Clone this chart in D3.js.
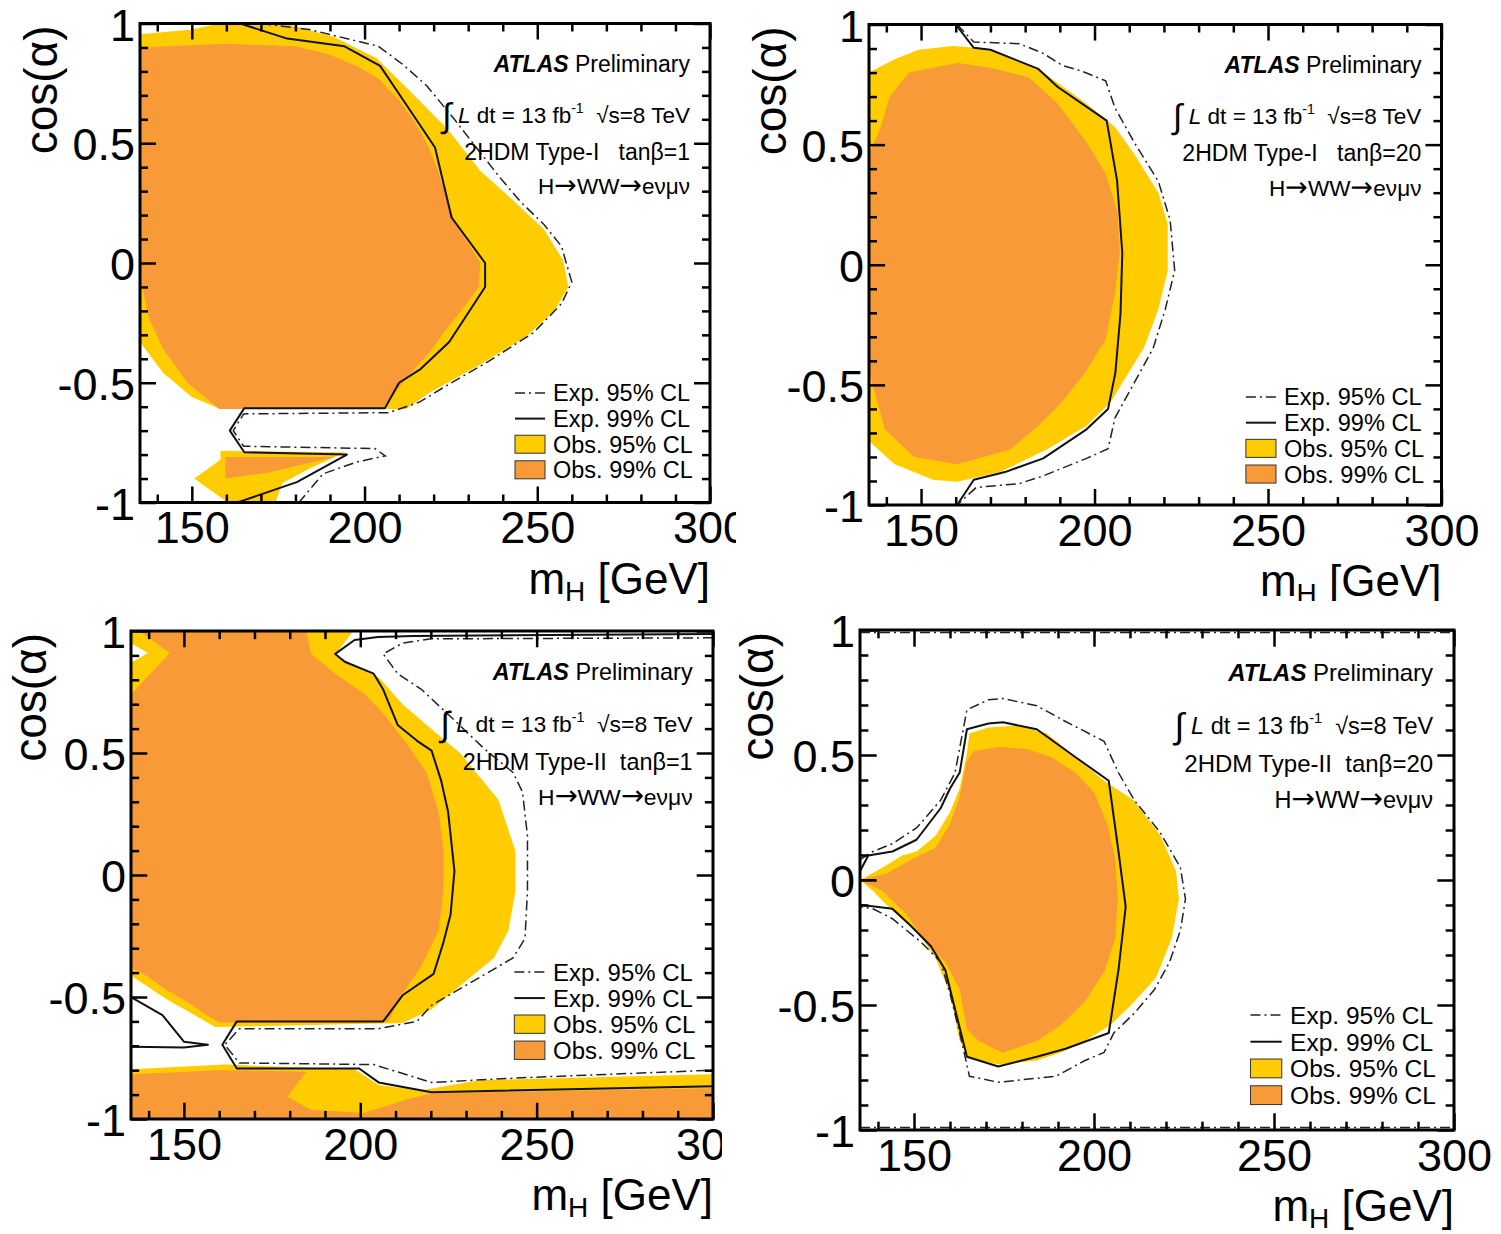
<!DOCTYPE html>
<html>
<head>
<meta charset="utf-8">
<script src="https://cdn.jsdelivr.net/npm/d3@7"></script>
<style>
  html, body { margin: 0; padding: 0; background: #fff; }
  svg { display: block; }
  text { font-family: "Liberation Sans", Arial, Helvetica, sans-serif; white-space: pre; }
</style>
</head>
<body>
<svg id="chart" width="1501" height="1234"></svg>
<script>
// ---------- axis ticks and labels ----------
const massDomain = [135, 300];
const cosDomain = [-1, 1];
const massTicks = [150, 200, 250, 300];
const massTickLabels = ["150", "200", "250", "300"];
const massMinorTicks = [140, 160, 170, 180, 190, 210, 220, 230, 240, 260, 270, 280, 290];
const cosTicks = [-1, -0.5, 0, 0.5, 1];
const cosTickLabels = ["-1", "-0.5", "0", "0.5", "1"];
const cosMinorTicks = [-0.9, -0.8, -0.7, -0.6, -0.4, -0.3, -0.2, -0.1, 0.1, 0.2, 0.3, 0.4, 0.6, 0.7, 0.8, 0.9];
const legendLabels = ["Exp. 95% CL", "Exp. 99% CL", "Obs. 95% CL", "Obs. 99% CL"];
const modelLabels = ["2HDM Type-I   tanβ=1", "2HDM Type-I   tanβ=20", "2HDM Type-II  tanβ=1", "2HDM Type-II  tanβ=20"];

// ---------- contours, points are [m_H (GeV), cos(alpha)] ----------
// Type-I, tan(beta)=1
const typeI_tb1_obs95 = [
  [[135,0.955],[150,0.975],[158,1.0],[177,1.0],[191,0.945],[203.5,0.855],[213,0.72],[224,0.56],[233.5,0.385],[243.5,0.255],[252,0.14],[257.5,0.01],[259,-0.10],[254.9,-0.2],[246.6,-0.31],[232.8,-0.43],[219,-0.54],[212,-0.61],[158.3,-0.61],[150,-0.56],[141.8,-0.46],[135,-0.33]],
  [[158.3,-0.784],[194.2,-0.79],[183.1,-0.865],[176.2,-0.92],[174.2,-1.0],[160.4,-1.0],[150.7,-0.90],[155.6,-0.85],[158.3,-0.82]]
];
const typeI_tb1_obs99 = [
  [[135,0.90],[160,0.915],[180,0.905],[190,0.87],[198,0.82],[204,0.77],[210,0.68],[214,0.60],[218,0.50],[221,0.40],[223.5,0.28],[226.5,0.16],[231,0.06],[233.5,0.0],[233,-0.10],[229,-0.18],[224,-0.27],[219,-0.37],[214,-0.45],[210,-0.52],[207,-0.58],[205.5,-0.61],[158,-0.61],[148.7,-0.50],[141.8,-0.36],[137.6,-0.23],[135.6,-0.10],[135,-0.08]],
  [[159.7,-0.81],[191.4,-0.81],[172.1,-0.875],[159.7,-0.90]]
];
const typeI_tb1_exp95 = [
  [[170,1.0],[184,0.975],[204,0.905],[211,0.83],[218,0.74],[226,0.60],[233,0.47],[239,0.36],[245.2,0.255],[252,0.16],[257,0.07],[260,-0.08],[257,-0.17],[249,-0.29],[236,-0.41],[224,-0.51],[216,-0.58],[207,-0.625],[165,-0.63],[162,-0.70],[165,-0.765],[203,-0.775],[206,-0.805],[198,-0.83],[188,-0.88],[181,-1.0]]
];
const typeI_tb1_exp99 = [
  [[164,1.0],[177.6,0.937],[194.2,0.905],[204.5,0.823],[212.1,0.661],[220.4,0.482],[225.2,0.19],[234.9,0.0],[234.9,-0.10],[224.5,-0.33],[216.2,-0.443],[210,-0.50],[205.9,-0.606],[165.2,-0.606],[161,-0.70],[165.2,-0.79],[194.9,-0.80],[180.4,-0.915],[165.2,-0.99],[163,-1.0]]
];

// Type-I, tan(beta)=20
const typeI_tb20_obs95 = [
  [[135,0.80],[142.4,0.855],[149.3,0.895],[159,0.911],[165.9,0.903],[172.8,0.879],[183.8,0.815],[197.7,0.67],[205.9,0.573],[211.5,0.46],[218.4,0.30],[221.1,0.17],[221.1,-0.024],[218.4,-0.185],[214.2,-0.347],[208.7,-0.476],[204.6,-0.573],[197.7,-0.67],[186.6,-0.766],[172.8,-0.863],[160.4,-0.903],[153.5,-0.895],[142.4,-0.83],[135,-0.734]]
];
const typeI_tb20_obs99 = [
  [[135,0.46],[138.3,0.57],[141,0.70],[146.5,0.80],[160.4,0.84],[170,0.82],[181,0.78],[189.4,0.67],[197.7,0.51],[203.2,0.38],[206.6,0.22],[207.3,0.056],[205.9,-0.12],[203.2,-0.31],[197.7,-0.44],[190.7,-0.57],[183.8,-0.67],[175.6,-0.77],[160.4,-0.83],[148,-0.80],[139.6,-0.685],[136.2,-0.51],[135,-0.43]]
];
const typeI_tb20_exp95 = [
  [[160.4,1.0],[165.2,0.927],[178.3,0.92],[185.2,0.88],[190.7,0.83],[196.3,0.806],[203.2,0.766],[205.9,0.653],[211.5,0.508],[218.4,0.347],[221.8,0.185],[223.1,-0.024],[220.4,-0.185],[216.9,-0.347],[211.5,-0.49],[205.9,-0.637],[203.9,-0.766],[197.7,-0.806],[185.2,-0.879],[178.3,-0.911],[165.9,-0.927],[160.4,-1.0]]
];
const typeI_tb20_exp99 = [
  [[160,1.0],[165.2,0.903],[170,0.895],[183.8,0.815],[189.4,0.74],[203.5,0.6],[206.5,0.35],[208,0.05],[207.5,-0.2],[206,-0.45],[203.9,-0.6],[197.7,-0.685],[185.2,-0.806],[174.2,-0.863],[165.2,-0.895],[160.4,-1.0]]
];

// Type-II, tan(beta)=1
const typeII_tb1_obs95 = [
  [[135,1.0],[198,1.0],[193,0.905],[198,0.86],[205.2,0.81],[212,0.70],[220,0.60],[228.3,0.50],[239.2,0.307],[244,0.097],[244,-0.065],[242,-0.227],[237.9,-0.34],[229.7,-0.437],[220.2,-0.55],[212,-0.607],[158.9,-0.623],[152,-0.566],[145.2,-0.51],[138.4,-0.445],[135,-0.413],[135,0.87],[139.8,0.91],[135,0.95]],
  [[135,-0.796],[161.6,-0.777],[198.4,-0.796],[205.2,-0.861],[217.4,-0.882],[233.8,-0.841],[300,-0.817],[300,-1],[135,-1]]
];
const typeII_tb1_obs99 = [
  [[137.5,1.0],[184.7,1.0],[186.1,0.906],[192.9,0.825],[201.1,0.744],[206.5,0.663],[213.4,0.534],[218.8,0.42],[222.2,0.26],[223.6,0.097],[223.6,-0.065],[222.2,-0.227],[217.4,-0.372],[212,-0.485],[207.9,-0.6],[160,-0.605],[157,-0.58],[152,-0.53],[145,-0.47],[139,-0.41],[135,-0.38],[135,0.74],[146,0.91]],
  [[135,-0.817],[160.2,-0.80],[184.7,-0.806],[179.3,-0.909],[186.1,-0.963],[201.1,-0.974],[214.7,-0.914],[220.2,-0.895],[300,-0.874],[300,-1],[135,-1]]
];
const typeII_tb1_exp95 = [
  [[300,0.972],[220,0.968],[212,0.95],[206.5,0.906],[210.6,0.825],[217.4,0.76],[227,0.63],[235.1,0.518],[243.3,0.42],[246,0.34],[247.4,0.16],[247.4,-0.065],[246.7,-0.26],[243.3,-0.34],[233.8,-0.42],[220.2,-0.534],[216.1,-0.6],[205.2,-0.63],[165.7,-0.63],[161.6,-0.696],[165.7,-0.77],[203.8,-0.777],[220.2,-0.85],[247.4,-0.83],[300,-0.80]]
];
const typeII_tb1_exp99 = [
  [[300,0.988],[215,0.98],[205,0.975],[198.4,0.963],[192.9,0.906],[195.6,0.874],[203.8,0.825],[206.5,0.76],[210.6,0.615],[216.1,0.55],[220.2,0.51],[222.9,0.388],[224.9,0.259],[226.7,0.016],[225.6,-0.162],[223.6,-0.275],[220.8,-0.405],[212,-0.493],[206.5,-0.6],[165,-0.6],[160.9,-0.696],[165,-0.793],[199.7,-0.793],[205.2,-0.85],[220.2,-0.89],[300,-0.866]],
  [[135,-0.50],[143.9,-0.574],[150,-0.683],[156.8,-0.696],[150,-0.707],[135,-0.704]]
];

// Type-II, tan(beta)=20
const typeII_tb20_obs95 = [
  [[135,0.0],[141.3,0.05],[146.7,0.098],[150.7,0.114],[156,0.177],[160,0.271],[162.7,0.366],[164.7,0.508],[165.4,0.587],[170.7,0.61],[178.7,0.618],[186.8,0.587],[194.8,0.492],[202.8,0.397],[211,0.319],[218.5,0.177],[222.8,0.035],[223.6,-0.076],[221.6,-0.233],[217.2,-0.391],[210.2,-0.502],[204.6,-0.58],[197.5,-0.644],[190.8,-0.69],[184.1,-0.722],[173.4,-0.738],[165.4,-0.714],[162.7,-0.644],[160,-0.454],[156,-0.312],[150.7,-0.202],[144,-0.123],[138.6,-0.044]]
];
const typeII_tb20_obs99 = [
  [[135,0.0],[142.6,0.027],[149.3,0.082],[156,0.129],[160,0.224],[162.7,0.334],[164.7,0.476],[166.7,0.516],[173.4,0.532],[181.4,0.524],[188.1,0.492],[194.8,0.429],[200.1,0.35],[203.7,0.224],[205.9,0.082],[206.6,-0.076],[205.9,-0.233],[203.1,-0.36],[197.5,-0.486],[190.8,-0.58],[184.1,-0.644],[174.7,-0.691],[168,-0.644],[164.7,-0.596],[162.7,-0.438],[158.7,-0.328],[153.3,-0.249],[148,-0.139],[141.3,-0.044]]
];
const typeII_tb20_exp95 = [
  [[135,0.082],[138.6,0.114],[144,0.145],[150.7,0.208],[157.4,0.319],[161.4,0.429],[164.7,0.681],[170.7,0.721],[174.7,0.726],[184.1,0.697],[192.1,0.634],[202.8,0.555],[206.8,0.429],[211.2,0.319],[218.3,0.192],[224,0.05],[225.4,-0.076],[224,-0.202],[221,-0.328],[216.8,-0.438],[211.2,-0.533],[205.5,-0.612],[202.8,-0.69],[197.5,-0.722],[189.4,-0.785],[173.4,-0.809],[165.4,-0.785],[162.7,-0.612],[160,-0.454],[157.4,-0.328],[152,-0.249],[144,-0.155],[138.6,-0.115],[135,-0.107]],
  [[135,0.99],[300,0.99]],
  [[135,-0.99],[300,-0.99]]
];
const typeII_tb20_exp99 = [
  [[135,0.035],[137.3,0.098],[144,0.114],[150.7,0.161],[157.4,0.287],[160,0.366],[162.7,0.43],[164.7,0.603],[170.7,0.626],[174.7,0.631],[184.1,0.603],[194.8,0.492],[204.1,0.397],[206.8,0.114],[208.8,-0.107],[206.8,-0.36],[204.1,-0.612],[192.1,-0.675],[184.1,-0.707],[173.4,-0.746],[164.7,-0.707],[161.4,-0.517],[158.7,-0.36],[154.7,-0.265],[149.3,-0.186],[144,-0.115],[135,-0.099]],
  [[135,0.0],[139.3,0.0]]
];

// ---------- layout of the four panels ----------
const panels = [
  { frame: {x0: 140, x1: 710,    y0: 23.5, y1: 502.5}, view: [0, 0, 736, 603],     legendRise: 109.5, model: modelLabels[0],
    obs95: typeI_tb1_obs95,  obs99: typeI_tb1_obs99,  exp95: typeI_tb1_exp95,  exp99: typeI_tb1_exp99 },
  { frame: {x0: 869, x1: 1441.5, y0: 24.5, y1: 505},   view: [745, 0, 756, 601],   legendRise: 108,   model: modelLabels[1],
    obs95: typeI_tb20_obs95, obs99: typeI_tb20_obs99, exp95: typeI_tb20_exp95, exp99: typeI_tb20_exp99 },
  { frame: {x0: 131, x1: 713,    y0: 631,  y1: 1119},  view: [0, 612, 722, 622],   legendRise: 147,   model: modelLabels[2],
    obs95: typeII_tb1_obs95, obs99: typeII_tb1_obs99, exp95: typeII_tb1_exp95, exp99: typeII_tb1_exp99 },
  { frame: {x0: 860, x1: 1454,   y0: 630,  y1: 1130},  view: [730, 612, 771, 622], legendRise: 115,   model: modelLabels[3],
    obs95: typeII_tb20_obs95, obs99: typeII_tb20_obs99, exp95: typeII_tb20_exp95, exp99: typeII_tb20_exp99 }
];

const COLOR_OBS95 = "#ffcc00";
const COLOR_OBS99 = "#f89a38";
const DASHDOT = "10,4,2,4";
const ARROW_FONT = "DejaVu Sans, Liberation Sans, sans-serif";
const TICK_FONT = 45;

const svg = d3.select("#chart");
svg.append("rect").attr("width", 1501).attr("height", 1234).attr("fill", "#fff");
const defs = svg.append("defs");

panels.forEach((p, i) => {
  const f = p.frame;
  const h = f.y1 - f.y0;
  const k = h / 479;

  defs.append("clipPath").attr("id", "view" + i).append("rect")
    .attr("x", p.view[0]).attr("y", p.view[1]).attr("width", p.view[2]).attr("height", p.view[3]);
  defs.append("clipPath").attr("id", "plot" + i).append("rect")
    .attr("x", f.x0).attr("y", f.y0).attr("width", f.x1 - f.x0).attr("height", h);

  const root = svg.append("g").attr("clip-path", `url(#view${i})`);
  const x = d3.scaleLinear().domain(massDomain).range([f.x0, f.x1]);
  const y = d3.scaleLinear().domain(cosDomain).range([f.y1, f.y0]);
  const line = d3.line().x(d => x(d[0])).y(d => y(d[1]));

  const plot = root.append("g").attr("clip-path", `url(#plot${i})`);
  plot.selectAll("path.obs95").data(p.obs95).join("path").attr("class", "obs95")
    .attr("d", d => line(d) + "Z").attr("fill", COLOR_OBS95);
  plot.selectAll("path.obs99").data(p.obs99).join("path").attr("class", "obs99")
    .attr("d", d => line(d) + "Z").attr("fill", COLOR_OBS99);
  plot.selectAll("path.exp99").data(p.exp99).join("path").attr("class", "exp99")
    .attr("d", line).attr("fill", "none").attr("stroke", "#111").attr("stroke-width", 2)
    .attr("stroke-linejoin", "round");
  plot.selectAll("path.exp95").data(p.exp95).join("path").attr("class", "exp95")
    .attr("d", line).attr("fill", "none").attr("stroke", "#222").attr("stroke-width", 1.5)
    .attr("stroke-dasharray", DASHDOT);

  // axes: inward ticks on all four sides
  const major = 16 * k, minor = 8 * k;
  const styleAxis = g => {
    g.select(".domain").remove();
    g.selectAll(".tick line").attr("stroke", "#000").attr("stroke-width", 2.5);
    g.selectAll("text").attr("font-size", TICK_FONT).attr("fill", "#000")
      .attr("font-family", "Liberation Sans, Arial, Helvetica, sans-serif");
  };
  const ax = root.append("g");
  ax.append("g").attr("transform", `translate(0,${f.y1})`)
    .call(d3.axisBottom(x).tickValues(massTicks).tickFormat((d, j) => massTickLabels[j])
      .tickSizeInner(-major).tickSizeOuter(0).tickPadding(9)).call(styleAxis);
  ax.append("g").attr("transform", `translate(0,${f.y1})`)
    .call(d3.axisBottom(x).tickValues(massMinorTicks).tickFormat("").tickSizeInner(-minor).tickSizeOuter(0)).call(styleAxis);
  ax.append("g").attr("transform", `translate(0,${f.y0})`)
    .call(d3.axisTop(x).tickValues(massTicks).tickFormat("").tickSizeInner(-major).tickSizeOuter(0)).call(styleAxis);
  ax.append("g").attr("transform", `translate(0,${f.y0})`)
    .call(d3.axisTop(x).tickValues(massMinorTicks).tickFormat("").tickSizeInner(-minor).tickSizeOuter(0)).call(styleAxis);
  ax.append("g").attr("transform", `translate(${f.x0},0)`)
    .call(d3.axisLeft(y).tickValues(cosTicks).tickFormat((d, j) => cosTickLabels[j])
      .tickSizeInner(-major).tickSizeOuter(0).tickPadding(5)).call(styleAxis)
    .call(g => g.selectAll(".tick text").attr("dy", "0.37em"));
  ax.append("g").attr("transform", `translate(${f.x0},0)`)
    .call(d3.axisLeft(y).tickValues(cosMinorTicks).tickFormat("").tickSizeInner(-minor).tickSizeOuter(0)).call(styleAxis);
  ax.append("g").attr("transform", `translate(${f.x1},0)`)
    .call(d3.axisRight(y).tickValues(cosTicks).tickFormat("").tickSizeInner(-major).tickSizeOuter(0)).call(styleAxis);
  ax.append("g").attr("transform", `translate(${f.x1},0)`)
    .call(d3.axisRight(y).tickValues(cosMinorTicks).tickFormat("").tickSizeInner(-minor).tickSizeOuter(0)).call(styleAxis);

  root.append("rect").attr("x", f.x0).attr("y", f.y0).attr("width", f.x1 - f.x0).attr("height", h)
    .attr("fill", "none").attr("stroke", "#000").attr("stroke-width", 3);

  // axis titles
  const xt = root.append("text").attr("x", f.x1).attr("y", f.y1 + 91)
    .attr("text-anchor", "end").attr("font-size", 44);
  xt.append("tspan").text("m");
  xt.append("tspan").attr("font-size", 28).attr("dy", 7).text("H");
  xt.append("tspan").attr("dy", -7).text(" [GeV]");

  root.append("text").attr("transform", `translate(${f.x0 - 83 * k},${f.y0 + 2}) rotate(-90)`)
    .attr("text-anchor", "end").attr("font-size", 46).text("cos(α)");

  // annotation block
  const tx = f.x1 - 20 * k;
  const t1 = root.append("text").attr("x", tx).attr("y", f.y0 + 48.5 * k)
    .attr("text-anchor", "end").attr("font-size", 23 * k);
  t1.append("tspan").attr("font-weight", "bold").attr("font-style", "italic").text("ATLAS");
  t1.append("tspan").text(" Preliminary");

  const t2 = root.append("text").attr("x", tx).attr("y", f.y0 + 99.5 * k)
    .attr("text-anchor", "end").attr("font-size", 22.5 * k);
  t2.append("tspan").attr("font-size", 34 * k).attr("dy", 4 * k).text("∫");
  t2.append("tspan").attr("dy", -4 * k).text(" ");
  t2.append("tspan").attr("font-style", "italic").text("L");
  t2.append("tspan").text(" dt = 13 fb");
  t2.append("tspan").attr("font-size", 14 * k).attr("dy", -10 * k).text("-1");
  t2.append("tspan").attr("dy", 10 * k).text("  √s=8 TeV");

  root.append("text").attr("x", tx).attr("y", f.y0 + 136.5 * k)
    .attr("text-anchor", "end").attr("font-size", 23 * k).text(p.model);

  const t4 = root.append("text").attr("x", tx).attr("y", f.y0 + 170.5 * k)
    .attr("text-anchor", "end").attr("font-size", 22.5 * k);
  t4.append("tspan").text("H");
  t4.append("tspan").attr("font-family", ARROW_FONT).attr("font-size", 27 * k).text("→");
  t4.append("tspan").text("WW");
  t4.append("tspan").attr("font-family", ARROW_FONT).attr("font-size", 27 * k).text("→");
  t4.append("tspan").text("eνμν");

  // legend
  const lx = f.x1 - 157 * k;
  const ly0 = f.y1 - p.legendRise;
  const step = 25.6 * k;
  legendLabels.forEach((lab, j) => {
    const ly = ly0 + j * step;
    if (j === 0) {
      root.append("line").attr("x1", lx - 38 * k).attr("x2", lx - 8 * k).attr("y1", ly).attr("y2", ly)
        .attr("stroke", "#222").attr("stroke-width", 1.5).attr("stroke-dasharray", DASHDOT);
    } else if (j === 1) {
      root.append("line").attr("x1", lx - 38 * k).attr("x2", lx - 8 * k).attr("y1", ly).attr("y2", ly)
        .attr("stroke", "#111").attr("stroke-width", 2);
    } else {
      root.append("rect").attr("x", lx - 38 * k).attr("y", ly - 9 * k).attr("width", 30 * k).attr("height", 18 * k)
        .attr("fill", j === 2 ? COLOR_OBS95 : COLOR_OBS99).attr("stroke", "#333").attr("stroke-width", 1);
    }
    root.append("text").attr("x", lx).attr("y", ly).attr("dy", "0.36em")
      .attr("font-size", 23.5 * k).text(lab);
  });
});
</script>
</body>
</html>
